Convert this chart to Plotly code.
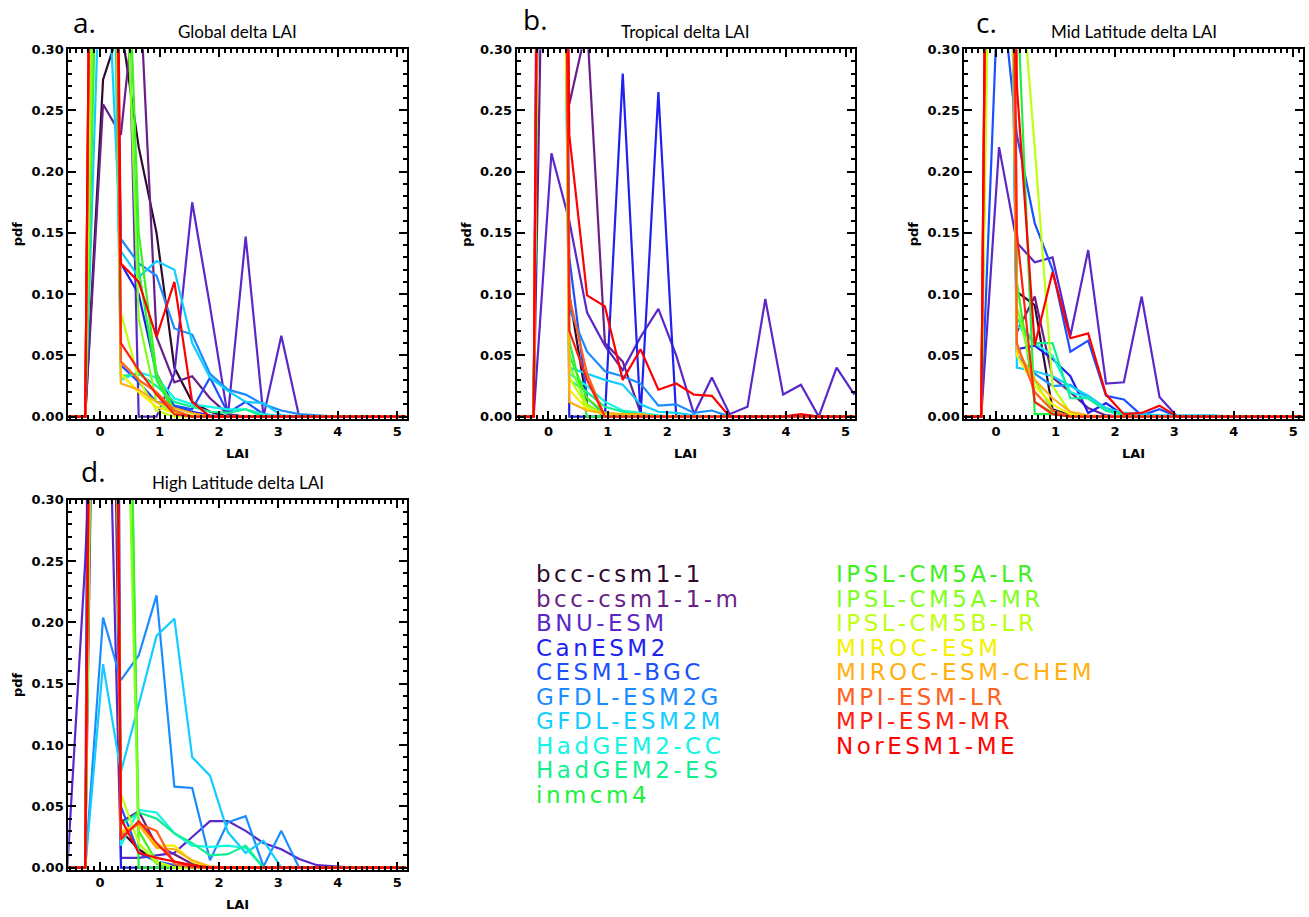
import plotly.graph_objects as go

# ---------------- data ----------------
lai_bins = [-0.55, -0.25, 0.05, 0.35, 0.65, 0.95, 1.25, 1.55, 1.85, 2.15,
            2.45, 2.75, 3.05, 3.35, 3.65, 3.95, 4.25, 4.55, 4.85, 5.15]

models = ["bcc-csm1-1", "bcc-csm1-1-m", "BNU-ESM", "CanESM2", "CESM1-BGC",
          "GFDL-ESM2G", "GFDL-ESM2M", "HadGEM2-CC", "HadGEM2-ES", "inmcm4",
          "IPSL-CM5A-LR", "IPSL-CM5A-MR", "IPSL-CM5B-LR", "MIROC-ESM",
          "MIROC-ESM-CHEM", "MPI-ESM-LR", "MPI-ESM-MR", "NorESM1-ME"]

model_colors = ["#2e0a2e", "#6a1f88", "#5a28c8", "#2020f0", "#1a50ff",
                "#1a8cff", "#12cdff", "#10f5e5", "#10f090", "#20f040",
                "#40f020", "#80ff20", "#c0ff10", "#f5f000", "#ffb010",
                "#ff6020", "#ff2010", "#ff0000"]

panel_titles = ["Global delta LAI", "Tropical delta LAI",
                "Mid Latitude delta LAI", "High Latitude delta LAI"]
panel_letters = ["a.", "b.", "c.", "d."]

x_ticks = [0, 1, 2, 3, 4, 5]
y_ticks = [0.0, 0.05, 0.10, 0.15, 0.20, 0.25, 0.30]
y_ticklabels = ["0.00", "0.05", "0.10", "0.15", "0.20", "0.25", "0.30"]

# pdf values per model (rows follow `models`), columns follow `lai_bins`
global_pdf = [
    [0, 0, 0.275, 0.32, 0.22, 0.15, 0.04, 0.012, 0.004, 0, 0, 0, 0, 0, 0, 0, 0, 0, 0, 0],
    [0, 0, 0.255, 0.23, 0.37, 0.065, 0.028, 0.033, 0.015, 0.002, 0, 0, 0, 0, 0, 0, 0, 0, 0, 0],
    [0, 0, 1.2, 0.6, 0, 0, 0.035, 0.175, 0.09, 0, 0.147, 0, 0.066, 0, 0, 0, 0, 0, 0, 0],
    [0, 0, 1.3, 0.125, 0.1, 0.035, 0.008, 0.004, 0.001, 0, 0, 0, 0, 0, 0, 0, 0, 0, 0, 0],
    [0, 0, 1.1, 0.042, 0.028, 0.012, 0.009, 0.006, 0.032, 0.003, 0.012, 0.002, 0, 0, 0, 0, 0, 0, 0, 0],
    [0, 0, 0.9, 0.145, 0.125, 0.115, 0.072, 0.067, 0.035, 0.022, 0.018, 0.01, 0.005, 0.002, 0.001, 0, 0, 0, 0, 0],
    [0, 0, 0.45, 0.135, 0.114, 0.127, 0.12, 0.06, 0.032, 0.021, 0.012, 0.011, 0.001, 0, 0, 0, 0, 0, 0, 0],
    [0, 0, 1.0, 0.03, 0.036, 0.032, 0.015, 0.01, 0.008, 0.006, 0.006, 0.002, 0, 0, 0, 0, 0, 0, 0, 0],
    [0, 0, 1.0, 0.033, 0.035, 0.025, 0.012, 0.008, 0.004, 0.003, 0.006, 0, 0, 0, 0, 0, 0, 0, 0, 0],
    [0, 0, 0.7, 0.45, 0.12, 0.03, 0.003, 0, 0, 0, 0, 0, 0, 0, 0, 0, 0, 0, 0, 0],
    [0, 0, 0.6, 0.55, 0.15, 0.035, 0.005, 0, 0, 0, 0, 0, 0, 0, 0, 0, 0, 0, 0, 0],
    [0, 0, 0.8, 0.5, 0.08, 0.012, 0.002, 0, 0, 0, 0, 0, 0, 0, 0, 0, 0, 0, 0, 0],
    [0, 0, 1.2, 0.085, 0.03, 0.005, 0, 0, 0, 0, 0, 0, 0, 0, 0, 0, 0, 0, 0, 0],
    [0, 0, 1.4, 0.035, 0.02, 0.008, 0.003, 0.001, 0, 0, 0, 0, 0, 0, 0, 0, 0, 0, 0, 0],
    [0, 0, 1.5, 0.027, 0.022, 0.012, 0.007, 0.003, 0, 0, 0, 0, 0, 0, 0, 0, 0, 0, 0, 0],
    [0, 0, 1.5, 0.045, 0.03, 0.02, 0.005, 0, 0, 0, 0, 0, 0, 0, 0, 0, 0, 0, 0, 0],
    [0, 0, 1.6, 0.06, 0.038, 0.018, 0.002, 0, 0, 0, 0, 0, 0, 0, 0, 0, 0, 0, 0, 0],
    [0, 0, 1.6, 0.125, 0.11, 0.065, 0.11, 0.012, 0, 0, 0, 0, 0, 0, 0, 0, 0, 0, 0, 0],
]

tropical_pdf = [
    [0, 0, 1.5, 0.1, 0.01, 0, 0, 0, 0, 0, 0, 0, 0, 0, 0, 0, 0, 0, 0, 0],
    [0, 0, 0.8, 0.255, 0.32, 0.06, 0.045, 0.003, 0, 0, 0, 0, 0, 0, 0, 0, 0, 0, 0, 0],
    [0, 0, 0.215, 0.16, 0.085, 0.058, 0.038, 0.065, 0.088, 0.05, 0.002, 0.032, 0.002, 0.008, 0.096, 0.018, 0.026, 0, 0.04, 0.018],
    [0, 0, 2.3, 0, 0, 0, 0.28, 0, 0.265, 0, 0, 0, 0, 0, 0, 0, 0, 0, 0, 0],
    [0, 0, 1.8, 0.13, 0.015, 0.002, 0, 0, 0, 0, 0, 0, 0, 0, 0, 0, 0, 0, 0, 0],
    [0, 0, 1.5, 0.088, 0.053, 0.037, 0.033, 0.027, 0.009, 0.01, 0.003, 0.005, 0, 0, 0, 0, 0, 0, 0, 0],
    [0, 0, 1.5, 0.04, 0.035, 0.03, 0.026, 0.01, 0.004, 0.003, 0.001, 0, 0, 0, 0, 0, 0, 0, 0, 0],
    [0, 0, 1.6, 0.035, 0.025, 0.012, 0.005, 0.003, 0.001, 0, 0, 0, 0, 0, 0, 0, 0, 0, 0, 0],
    [0, 0, 1.6, 0.03, 0.02, 0.008, 0.004, 0.002, 0, 0, 0, 0, 0, 0, 0, 0, 0, 0, 0, 0],
    [0, 0, 1.7, 0.062, 0, 0, 0, 0, 0, 0, 0, 0, 0, 0, 0, 0, 0, 0, 0, 0],
    [0, 0, 1.7, 0.05, 0.015, 0.003, 0, 0, 0, 0, 0, 0, 0, 0, 0, 0, 0, 0, 0, 0],
    [0, 0, 1.7, 0.042, 0.01, 0.002, 0, 0, 0, 0, 0, 0, 0, 0, 0, 0, 0, 0, 0, 0],
    [0, 0, 1.7, 0.032, 0.008, 0.001, 0, 0, 0, 0, 0, 0, 0, 0, 0, 0, 0, 0, 0, 0],
    [0, 0, 1.8, 0.022, 0.006, 0.002, 0, 0, 0, 0, 0, 0, 0, 0, 0, 0, 0, 0, 0, 0],
    [0, 0, 1.9, 0.012, 0.005, 0.003, 0.002, 0.002, 0, 0, 0, 0, 0, 0, 0, 0, 0, 0, 0, 0],
    [0, 0, 1.9, 0.098, 0.035, 0, 0, 0, 0, 0, 0, 0, 0, 0, 0, 0, 0, 0, 0, 0],
    [0, 0, 2.0, 0.07, 0.03, 0, 0, 0, 0, 0, 0, 0, 0, 0, 0, 0, 0, 0, 0, 0],
    [0, 0, 2.0, 0.23, 0.099, 0.09, 0.03, 0.055, 0.022, 0.027, 0.018, 0.017, 0, 0, 0, 0, 0.002, 0, 0, 0],
]

midlat_pdf = [
    [0, 0, 1.2, 0.102, 0.091, 0.006, 0.001, 0, 0, 0, 0, 0, 0, 0, 0, 0, 0, 0, 0, 0],
    [0, 0, 1.2, 0.069, 0.098, 0.032, 0.02, 0.007, 0.001, 0, 0, 0, 0, 0, 0, 0, 0, 0, 0, 0],
    [0, 0, 0.22, 0.142, 0.126, 0.13, 0.066, 0.136, 0.027, 0.028, 0.098, 0.016, 0, 0, 0, 0, 0, 0, 0, 0],
    [0, 0, 1.2, 0.055, 0.058, 0.047, 0.033, 0.003, 0.011, 0.001, 0, 0, 0, 0, 0, 0, 0, 0, 0, 0],
    [0, 0, 0.37, 0.23, 0.158, 0.12, 0.053, 0.062, 0.017, 0.014, 0.001, 0.006, 0, 0, 0, 0, 0, 0, 0, 0],
    [0, 0, 1.2, 0.05, 0.035, 0.025, 0.026, 0.015, 0.005, 0.002, 0, 0, 0, 0, 0, 0, 0, 0, 0, 0],
    [0, 0, 1.2, 0.04, 0.037, 0.033, 0.025, 0.017, 0.007, 0.003, 0.002, 0.001, 0.001, 0.001, 0.001, 0, 0, 0, 0, 0],
    [0, 0, 1.2, 0.075, 0.06, 0.05, 0.02, 0.015, 0.005, 0.001, 0, 0, 0, 0, 0, 0, 0, 0, 0, 0],
    [0, 0, 1.2, 0.08, 0.06, 0.06, 0.015, 0.015, 0.005, 0.002, 0, 0, 0, 0, 0, 0, 0, 0, 0, 0],
    [0, 0, 1.0, 0.35, 0.002, 0.002, 0, 0, 0, 0, 0, 0, 0, 0, 0, 0, 0, 0, 0, 0],
    [0, 0, 1.2, 0.11, 0.012, 0.003, 0, 0, 0, 0, 0, 0, 0, 0, 0, 0, 0, 0, 0, 0],
    [0, 0, 1.2, 0.09, 0.03, 0.005, 0, 0, 0, 0, 0, 0, 0, 0, 0, 0, 0, 0, 0, 0],
    [0, 0, 0.9, 0.4, 0.22, 0.025, 0.003, 0, 0, 0, 0, 0, 0, 0, 0, 0, 0, 0, 0, 0],
    [0, 0, 1.4, 0.05, 0.025, 0.01, 0.002, 0, 0, 0, 0, 0, 0, 0, 0, 0, 0, 0, 0, 0],
    [0, 0, 1.5, 0.055, 0.03, 0.015, 0.004, 0.001, 0, 0, 0, 0, 0, 0, 0, 0, 0, 0, 0, 0],
    [0, 0, 1.5, 0.06, 0.02, 0.005, 0, 0, 0, 0, 0, 0, 0, 0, 0, 0, 0, 0, 0, 0],
    [0, 0, 1.6, 0.15, 0.012, 0.002, 0, 0, 0, 0, 0, 0, 0, 0, 0, 0, 0, 0, 0, 0],
    [0, 0, 1.6, 0.27, 0.058, 0.118, 0.064, 0.068, 0.018, 0.002, 0.003, 0.009, 0, 0, 0, 0, 0, 0, 0, 0],
]

highlat_pdf = [
    [0, 0, 1.5, 0.03, 0.015, 0.005, 0.001, 0, 0, 0, 0, 0, 0, 0, 0, 0, 0, 0, 0, 0],
    [0, 0, 1.0, 0.037, 0.046, 0.018, 0.011, 0.003, 0, 0, 0, 0, 0, 0, 0, 0, 0, 0, 0, 0],
    [0, 0.25, 0.59, 0.008, 0.008, 0.01, 0.012, 0.025, 0.038, 0.038, 0.03, 0.02, 0.015, 0.007, 0.002, 0.001, 0, 0, 0, 0],
    [0, 0, 3.0, 0, 0, 0, 0, 0, 0, 0, 0, 0, 0, 0, 0, 0, 0, 0, 0, 0],
    [0, 0, 1.5, 0.05, 0.012, 0.005, 0.002, 0, 0, 0, 0, 0, 0, 0, 0, 0, 0, 0, 0, 0],
    [0, 0, 0.204, 0.153, 0.173, 0.222, 0.066, 0.065, 0.006, 0.037, 0.042, 0.001, 0.03, 0, 0, 0, 0, 0, 0, 0],
    [0, 0, 0.166, 0.078, 0.133, 0.189, 0.203, 0.09, 0.075, 0.029, 0.012, 0.022, 0, 0, 0, 0, 0, 0, 0, 0],
    [0, 0, 1.5, 0.018, 0.047, 0.045, 0.028, 0.018, 0.017, 0.018, 0.016, 0, 0, 0, 0, 0, 0, 0, 0, 0],
    [0, 0, 1.5, 0.035, 0.045, 0.04, 0.028, 0.02, 0.01, 0.011, 0.018, 0, 0, 0, 0, 0, 0, 0, 0, 0],
    [0, 0, 1.2, 0.9, 0, 0, 0, 0, 0, 0, 0, 0, 0, 0, 0, 0, 0, 0, 0, 0],
    [0, 0, 1.2, 0.8, 0.03, 0.005, 0, 0, 0, 0, 0, 0, 0, 0, 0, 0, 0, 0, 0, 0],
    [0, 0, 1.2, 0.6, 0.02, 0.003, 0, 0, 0, 0, 0, 0, 0, 0, 0, 0, 0, 0, 0, 0],
    [0, 0, 1.5, 0.06, 0.02, 0.005, 0, 0, 0, 0, 0, 0, 0, 0, 0, 0, 0, 0, 0, 0],
    [0, 0, 1.6, 0.03, 0.035, 0.018, 0.018, 0.005, 0, 0, 0, 0, 0, 0, 0, 0, 0, 0, 0, 0],
    [0, 0, 1.6, 0.028, 0.035, 0.016, 0.015, 0.006, 0.001, 0, 0, 0, 0, 0, 0, 0, 0, 0, 0, 0],
    [0, 0, 1.7, 0.025, 0.036, 0.03, 0.003, 0, 0, 0, 0, 0, 0, 0, 0, 0, 0, 0, 0, 0],
    [0, 0, 1.7, 0.023, 0.038, 0.02, 0.005, 0.001, 0, 0, 0, 0, 0, 0, 0, 0, 0, 0, 0, 0],
    [0, 0, 1.8, 0.04, 0.012, 0.008, 0.005, 0.002, 0, 0, 0, 0, 0, 0, 0, 0, 0, 0, 0, 0],
]

panels_pdf = [global_pdf, tropical_pdf, midlat_pdf, highlat_pdf]

# ---------------- layout geometry (pixels) ----------------
W, H = 1309, 917
# (left, right, top, bottom) of each plotting box in pixels
boxes = [(68.3, 406.7, 42.7, 417.3),
         (516.7, 855.0, 42.7, 417.3),
         (964.3, 1302.7, 42.7, 417.3),
         (68.3, 406.7, 499.3, 874.3)]
letter_pos = [(71, 15), (521, 12), (974, 15), (79, 470)]


def px(x):
    return x / W


def py(y):
    return 1 - y / H


fig = go.Figure()

tick_font = dict(family="DejaVu Sans", size=13, color="black", weight="bold")

for i, (pdf, box) in enumerate(zip(panels_pdf, boxes)):
    ax = "" if i == 0 else str(i + 1)
    for name, col, vals in zip(models, model_colors, pdf):
        fig.add_trace(go.Scatter(
            x=lai_bins, y=vals, mode="lines", name=name,
            line=dict(color=col, width=2.2),
            xaxis="x" + ax, yaxis="y" + ax, showlegend=False,
            hoverinfo="skip"))
    l, r, t, b = box
    fig.layout["xaxis" + ax] = dict(
        domain=[px(l), px(r)], anchor="y" + ax, range=[-0.535, 5.16],
        tickmode="array", tickvals=x_ticks, ticktext=[str(v) for v in x_ticks],
        ticks="inside", ticklen=8, tickwidth=2, tickcolor="black",
        showline=True, linewidth=2, linecolor="black", mirror="allticks",
        showgrid=False, zeroline=False, tickfont=tick_font,
        minor=dict(dtick=0.1, tick0=0, ticks="inside", ticklen=4,
                   tickwidth=1.5, tickcolor="black", showgrid=False))
    fig.layout["yaxis" + ax] = dict(
        domain=[py(b), py(t)], anchor="x" + ax, range=[-0.0018, 0.3],
        tickmode="array", tickvals=y_ticks, ticktext=y_ticklabels,
        ticks="inside", ticklen=8, tickwidth=2, tickcolor="black",
        showline=True, linewidth=2, linecolor="black", mirror="allticks",
        showgrid=False, zeroline=False, tickfont=tick_font,
        minor=dict(dtick=0.01, tick0=0, ticks="inside", ticklen=4,
                   tickwidth=1.5, tickcolor="black", showgrid=False))

annotations = []
for i, box in enumerate(boxes):
    l, r, t, b = box
    cx = (l + r) / 2
    # title
    annotations.append(dict(text=panel_titles[i], x=px(cx), y=py(t - 18),
                            xref="paper", yref="paper", showarrow=False,
                            xanchor="center", yanchor="middle",
                            font=dict(family="Lato", size=17, color="black")))
    # x axis label
    annotations.append(dict(text="LAI", x=px(cx), y=py(b + 35),
                            xref="paper", yref="paper", showarrow=False,
                            xanchor="center", yanchor="middle",
                            font=dict(family="DejaVu Sans", size=13, color="black", weight="bold")))
    # y axis label
    annotations.append(dict(text="pdf", x=px(l - 50), y=py((t + b) / 2),
                            xref="paper", yref="paper", showarrow=False,
                            xanchor="center", yanchor="middle", textangle=-90,
                            font=dict(family="DejaVu Sans", size=13, color="black", weight="bold")))
    # panel letter
    lx, ly = letter_pos[i]
    annotations.append(dict(text=panel_letters[i], x=px(lx), y=py(ly),
                            xref="paper", yref="paper", showarrow=False,
                            xanchor="left", yanchor="middle",
                            font=dict(family="Open Sans", size=28, color="black")))

# model legend written as coloured text in two columns
for k, (name, col) in enumerate(zip(models, model_colors)):
    column = 0 if k < 10 else 1
    row = k if k < 10 else k - 10
    x0 = 534 if column == 0 else 834
    y0 = 575 + row * 24.8
    annotations.append(dict(
        text='<span style="letter-spacing:3.5px">' + name + '</span>',
        x=px(x0), y=py(y0), xref="paper", yref="paper", showarrow=False,
        xanchor="left", yanchor="middle",
        font=dict(family="DejaVu Sans", size=23, color=col)))

fig.update_layout(width=W, height=H, margin=dict(l=0, r=0, t=0, b=0),
                  paper_bgcolor="white", plot_bgcolor="white",
                  annotations=annotations, showlegend=False)

fig.write_html("out.html")
